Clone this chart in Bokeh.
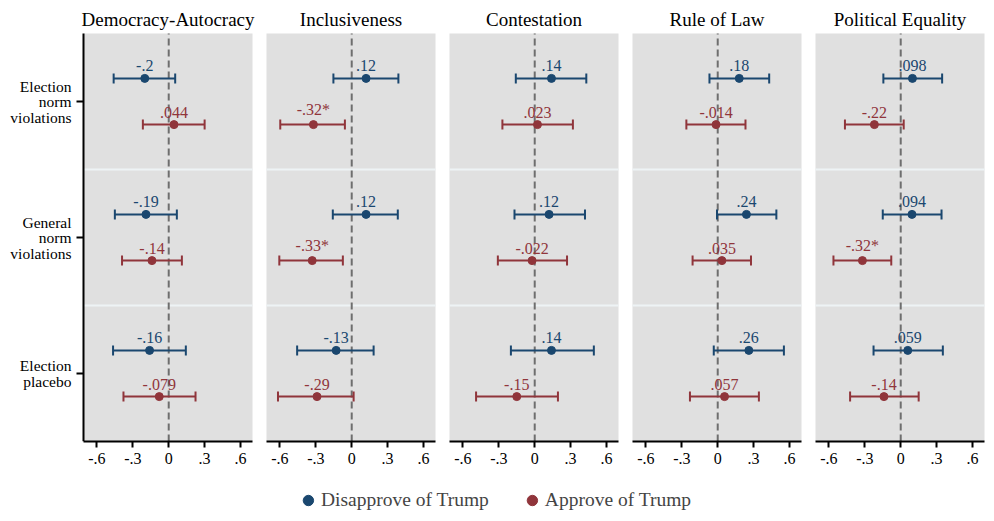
from bokeh.plotting import figure
from bokeh.models import ColumnDataSource, Whisker, TeeHead, FixedTicker, Legend, LegendItem, BoxAnnotation
from bokeh.layouts import row, column
from bokeh.embed import file_html
from bokeh.resources import INLINE
from bokeh.core.properties import value

# ---------------- data ----------------
categories = ["Election\nnorm\nviolations", "General\nnorm\nviolations", "Election\nplacebo"]
panels = ["Democracy-Autocracy", "Inclusiveness", "Contestation", "Rule of Law", "Political Equality"]
groups = ["Disapprove of Trump", "Approve of Trump"]
xticks = [-0.6, -0.3, 0, 0.3, 0.6]
xtick_labels = ["-.6", "-.3", "0", ".3", ".6"]

# Disapprove of Trump (per panel: election norm, general norm, placebo)
dis_est = [[-0.20, -0.19, -0.16], [0.12, 0.12, -0.13], [0.14, 0.12, 0.14], [0.18, 0.24, 0.26], [0.098, 0.094, 0.059]]
dis_lo = [[-0.46, -0.45, -0.465], [-0.153, -0.158, -0.456], [-0.158, -0.169, -0.199], [-0.069, -0.006, -0.033], [-0.145, -0.15, -0.227]]
dis_hi = [[0.054, 0.068, 0.143], [0.39, 0.385, 0.183], [0.431, 0.42, 0.494], [0.43, 0.49, 0.553], [0.346, 0.341, 0.352]]
dis_lab = [["-.2", "-.19", "-.16"], [".12", ".12", "-.13"], [".14", ".12", ".14"], [".18", ".24", ".26"], [".098", ".094", ".059"]]

# Approve of Trump
app_est = [[0.044, -0.14, -0.079], [-0.32, -0.33, -0.29], [0.023, -0.022, -0.15], [-0.014, 0.035, 0.057], [-0.22, -0.32, -0.14]]
app_lo = [[-0.216, -0.39, -0.378], [-0.597, -0.605, -0.616], [-0.27, -0.308, -0.49], [-0.262, -0.21, -0.232], [-0.466, -0.562, -0.423]]
app_hi = [[0.30, 0.11, 0.224], [-0.057, -0.074, 0.016], [0.319, 0.27, 0.194], [0.232, 0.278, 0.344], [0.025, -0.079, 0.15]]
app_lab = [[".044", "-.14", "-.079"], ["-.32*", "-.33*", "-.29"], [".023", "-.022", "-.15"], ["-.014", ".035", ".057"], ["-.22", "-.32*", "-.14"]]

# ---------------- style ----------------
FONT = "Liberation Serif"
BLUE = "#1a476f"
RED = "#90353b"
BG = "#e0e0e0"
SEP = "#eef3f5"
ZERO = "#6e6e6e"
OFF = 0.17
FRAME_W = 169          # px of the data area of each panel
DATA_H = 408           # px of the data area height
LEFT = 83              # px for the category labels
HALF_GAP = 7
LAST_R = 2
TOP = 33
BOTTOM = 42
LEG_H = 30
XR = (-0.712, 0.70)
LINE_STEP = 15.5
TICK_LEN = 7

n = len(categories)
ypos = [n - i for i in range(n)]
bounds = [(a + b) / 2 for a, b in zip(ypos[:-1], ypos[1:])]
ppu = FRAME_W / (XR[1] - XR[0])
ppy = DATA_H / n
y0, y1 = 0.5, n + 0.5

figs = []
for k, title in enumerate(panels):
    first = k == 0
    lpad = LEFT if first else HALF_GAP
    rpad = LAST_R if k == len(panels) - 1 else HALF_GAP
    p = figure(width=lpad + FRAME_W + rpad, height=TOP + DATA_H + BOTTOM,
               x_range=(XR[0] - lpad / ppu, XR[1] + rpad / ppu), y_range=(y0, y1 + TOP / ppy),
               output_backend="svg", toolbar_location=None, min_border_left=0, min_border_right=0,
               min_border_top=0, min_border_bottom=BOTTOM, background_fill_color="white",
               border_fill_color="white", outline_line_color=None)
    p.grid.visible = False
    p.yaxis.visible = False

    p.xaxis.ticker = FixedTicker(ticks=xticks)
    p.xaxis.bounds = XR
    p.xaxis.major_label_overrides = dict(zip(xticks, xtick_labels))
    p.xaxis.major_label_text_font = FONT
    p.xaxis.major_label_text_font_size = "16px"
    p.xaxis.major_label_text_color = "black"
    p.xaxis.axis_line_width = 2
    p.xaxis.axis_line_color = "black"
    p.xaxis.major_tick_line_width = 2
    p.xaxis.major_tick_out = 6
    p.xaxis.major_tick_in = 0
    p.xaxis.minor_tick_line_color = None
    p.xaxis.major_label_standoff = 5

    # plot-region background
    p.add_layout(BoxAnnotation(left=XR[0], right=XR[1], bottom=y0, top=y1, fill_color=BG,
                               fill_alpha=1, line_color=None, level="underlay"))
    # separators between categories
    p.segment(x0=[XR[0]] * len(bounds), x1=[XR[1]] * len(bounds), y0=bounds, y1=bounds,
              line_color=SEP, line_width=2)
    # zero reference line
    p.segment(x0=[0], x1=[0], y0=[y0], y1=[y1], line_color=ZERO, line_width=2, line_dash="7 4")

    # panel title
    p.text(x=[(XR[0] + XR[1]) / 2], y=[y1], text=[title], text_font=value(FONT), text_font_size="19px",
           text_color="black", text_align="center", text_baseline="bottom", y_offset=-4)

    if first:
        # left axis line and category ticks
        p.segment(x0=[XR[0]], x1=[XR[0]], y0=[y0], y1=[y1], line_color="black", line_width=2)
        p.segment(x0=[XR[0] - TICK_LEN / ppu] * n, x1=[XR[0]] * n, y0=ypos, y1=ypos,
                  line_color="black", line_width=2)
        cx, cy, ct, co = [], [], [], []
        for y, cat in zip(ypos, categories):
            lines = cat.split("\n")
            m = len(lines)
            for i, ln in enumerate(lines):
                cx.append(XR[0])
                cy.append(y)
                ct.append(ln)
                co.append((i - (m - 1) / 2) * LINE_STEP)
        p.text(x="x", y="y", text="t", y_offset="o", source=ColumnDataSource(dict(x=cx, y=cy, t=ct, o=co)),
               x_offset=-12, text_font=value(FONT), text_font_size="15.5px", text_color="black",
               text_align="right", text_baseline="middle")

    series = [(dis_est[k], dis_lo[k], dis_hi[k], dis_lab[k], BLUE, OFF),
              (app_est[k], app_lo[k], app_hi[k], app_lab[k], RED, -OFF)]
    for est, lo, hi, lab, col, off in series:
        src = ColumnDataSource(dict(est=est, lo=lo, hi=hi, lab=lab, yb=[y + off for y in ypos]))
        w = Whisker(source=src, base="yb", lower="lo", upper="hi", dimension="width",
                    line_color=col, line_width=2, level="glyph",
                    lower_head=TeeHead(size=10, line_color=col, line_width=2),
                    upper_head=TeeHead(size=10, line_color=col, line_width=2))
        p.add_layout(w)
        p.scatter(x="est", y="yb", source=src, size=8, color=col)
        p.text(x="est", y="yb", text="lab", source=src, text_font=value(FONT), text_font_size="16px",
               text_color=col, text_align="center", text_baseline="bottom", y_offset=-7)
    figs.append(p)

# legend strip
nan = float("nan")
total_w = sum(f.width for f in figs)
lf = figure(width=total_w, height=LEG_H, x_range=(0, 1), y_range=(0, 1),
            output_backend="svg", toolbar_location=None, min_border=0, outline_line_color=None)
lf.axis.visible = False
lf.grid.visible = False
r1 = lf.scatter(x=[nan], y=[nan], size=10, color=BLUE)
r2 = lf.scatter(x=[nan], y=[nan], size=10, color=RED)
leg = Legend(items=[LegendItem(label=groups[0], renderers=[r1]), LegendItem(label=groups[1], renderers=[r2])],
             orientation="horizontal", location="bottom", label_text_font=FONT, label_text_font_size="19.5px",
             border_line_color=None, background_fill_alpha=0, spacing=30, glyph_width=26, glyph_height=26,
             label_standoff=0, padding=0, margin=0)
lf.add_layout(leg)

layout = column(row(*figs), lf)
open("out.html", "w").write(file_html(layout, INLINE))
